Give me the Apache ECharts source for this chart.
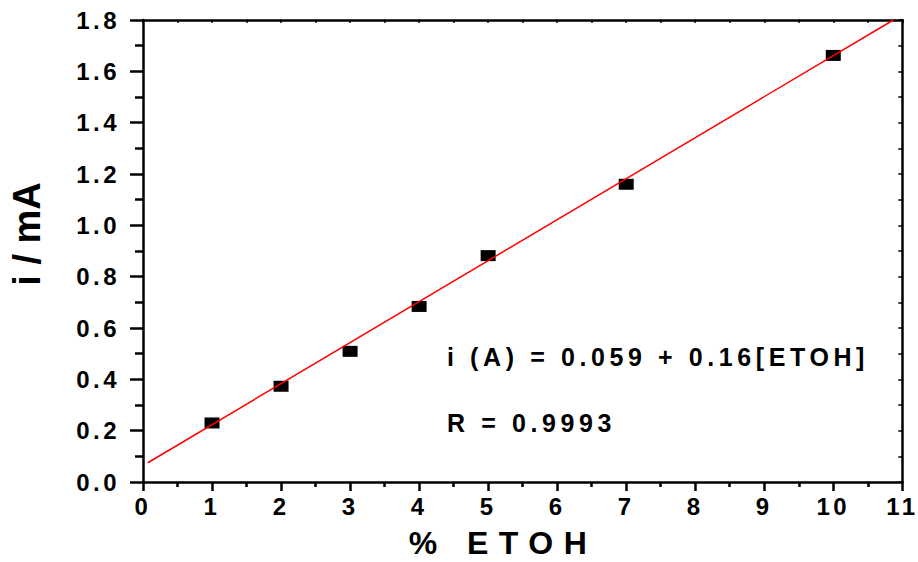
<!DOCTYPE html>
<html>
<head>
<meta charset="utf-8">
<script src="https://cdn.jsdelivr.net/npm/echarts@6/dist/echarts.min.js"></script>
<style>
  html, body { margin: 0; padding: 0; background: #fff; }
  #chart { width: 918px; height: 562px; }
  #chart text { letter-spacing: 3.5px; }
  #chart text[style*="25px"] { letter-spacing: 4.6px; }
  #chart text[style*="32px"] { letter-spacing: 10.5px; }
  #chart text[style*="38px"] { letter-spacing: 0px; }
</style>
</head>
<body>
<div id="chart"></div>
<script>
// ---- data ----
const concentrations = [1, 2, 3, 4, 5, 7, 10];          // % ETOH
const currents = [0.230, 0.373, 0.509, 0.684, 0.882, 1.160, 1.662]; // i / mA
const fitLine = [[0.07, 0.075], [10.87, 1.8]];          // linear fit endpoints
const xTitle = '% ETOH';
const yTitle = 'i / mA';
const fitText = 'i (A) = 0.059 + 0.16[ETOH]';
const rText = 'R = 0.9993';

const FONT = '"Liberation Sans", Arial, Helvetica, sans-serif';
const chart = echarts.init(document.getElementById('chart'), null, { renderer: 'svg' });

const grid = { left: 143, right: 12, top: 20, bottom: 80 };

chart.setOption({
  backgroundColor: '#fff',
  animation: false,
  grid: grid,
  xAxis: [{
    type: 'value', min: 0, max: 11, interval: 1, position: 'bottom',
    axisLine: { show: true, onZero: false, lineStyle: { color: '#000', width: 2.5 } },
    axisTick: { show: true, inside: false, length: 9, lineStyle: { color: '#000', width: 2.5 } },
    minorTick: { show: true, splitNumber: 2, length: 5, lineStyle: { color: '#000', width: 2.5 } },
    splitLine: { show: false },
    axisLabel: { margin: 12, color: '#000', fontSize: 24, fontWeight: 'bold', fontFamily: FONT },
  }, {
    type: 'value', min: 0, max: 11, interval: 0.5, position: 'top',
    axisLine: { show: true, onZero: false, lineStyle: { color: '#000', width: 2.5 } },
    axisTick: { show: true, inside: true, length: 3, lineStyle: { color: '#000', width: 1.5 } },
    axisLabel: { show: false }, splitLine: { show: false }
  }],
  yAxis: [{
    type: 'value', min: 0, max: 1.8, interval: 0.2, position: 'left',
    axisLine: { show: true, onZero: false, lineStyle: { color: '#000', width: 2.5 } },
    axisTick: { show: true, inside: false, length: 13, lineStyle: { color: '#000', width: 2.5 } },
    minorTick: { show: true, splitNumber: 2, length: 8, lineStyle: { color: '#000', width: 2.5 } },
    splitLine: { show: false },
    axisLabel: { margin: 23, color: '#000', fontSize: 24, fontWeight: 'bold', fontFamily: FONT,
                 formatter: v => v.toFixed(1) },
  }, {
    type: 'value', min: 0, max: 1.8, interval: 0.1, position: 'right',
    axisLine: { show: true, onZero: false, lineStyle: { color: '#000', width: 2.5 } },
    axisTick: { show: true, inside: true, length: 4, lineStyle: { color: '#000', width: 1.5 } },
    axisLabel: { show: false }, splitLine: { show: false }
  }],
  series: [{
    type: 'line',
    data: fitLine,
    showSymbol: false,
    symbol: 'none',
    lineStyle: { color: '#ff0000', width: 1.5 },
    z: 3
  }, {
    type: 'scatter',
    data: concentrations.map((c, i) => [c, currents[i]]),
    symbol: 'rect',
    symbolSize: [15, 11],
    itemStyle: { color: '#000', opacity: 1 },
    z: 2
  }],
  graphic: [{
    type: 'text', left: 447, top: 344,
    style: { text: fitText, fill: '#000', font: 'bold 25px ' + FONT }
  }, {
    type: 'text', left: 447, top: 410,
    style: { text: rText, fill: '#000', font: 'bold 25px ' + FONT }
  }, {
    type: 'text', x: 503, y: 543,
    style: { text: xTitle, fill: '#000', font: 'bold 32px ' + FONT, align: 'center', verticalAlign: 'middle' }
  }, {
    type: 'text', x: 27, y: 234, rotation: Math.PI / 2,
    style: { text: yTitle, fill: '#000', font: 'bold 38px ' + FONT, align: 'center', verticalAlign: 'middle' }
  }]
});
</script>
</body>
</html>
